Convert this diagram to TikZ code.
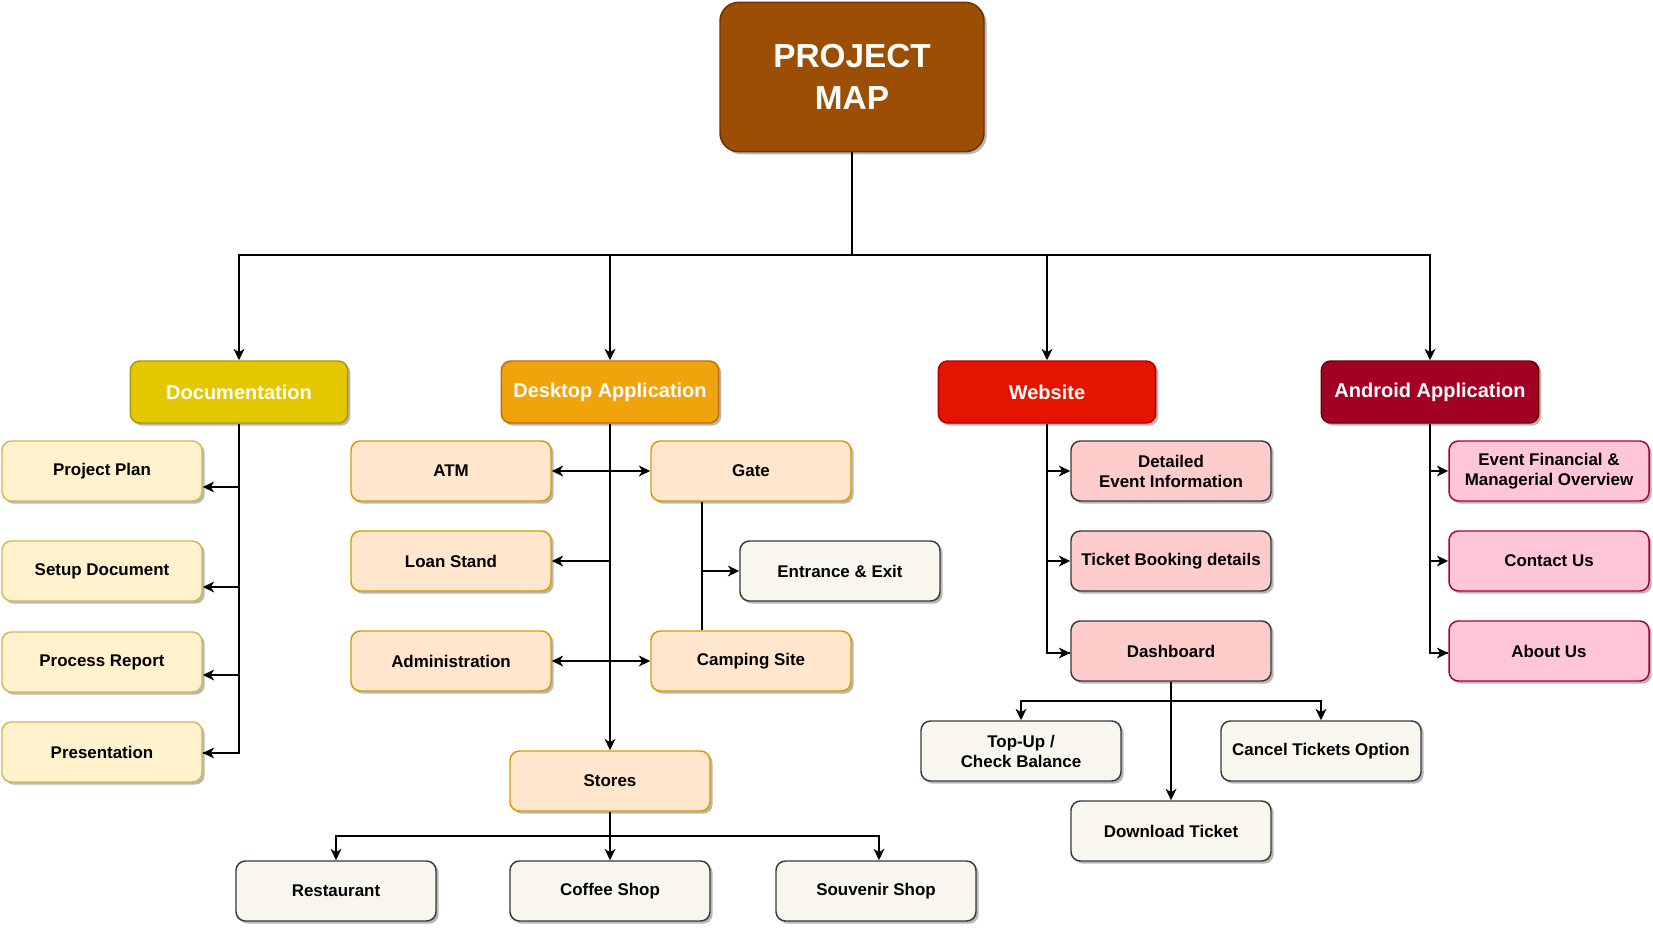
\documentclass[tikz,border=0pt]{standalone}
\usepackage{fontspec}
\setmainfont{Liberation Sans}
\usetikzlibrary{arrows.meta,shadows}
\definecolor{rootfill}{HTML}{9C4E02}
\definecolor{rootline}{HTML}{6B3300}
\definecolor{docfill}{HTML}{E3C800}
\definecolor{docline}{HTML}{B09500}
\definecolor{deskfill}{HTML}{F0A30A}
\definecolor{deskline}{HTML}{BD7000}
\definecolor{webfill}{HTML}{E51400}
\definecolor{webline}{HTML}{B20000}
\definecolor{andfill}{HTML}{A20025}
\definecolor{andline}{HTML}{6F0000}
\definecolor{docchild}{HTML}{FFF2CC}
\definecolor{docchildline}{HTML}{D6B656}
\definecolor{deskchild}{HTML}{FFE6CC}
\definecolor{deskchildline}{HTML}{D79B00}
\definecolor{grayfill}{HTML}{F9F7ED}
\definecolor{grayline}{HTML}{36393D}
\definecolor{webchild}{HTML}{FFCCCC}
\definecolor{andchild}{HTML}{FFC5D8}
\definecolor{andchildline}{HTML}{A8003A}
\tikzset{
  basebox/.style={rounded corners=7pt, line width=1.1pt, align=center,
    font=\bfseries\fontsize{12.7}{15}\selectfont, text=black,
    minimum width=150pt, minimum height=45pt, inner sep=2pt,
    drop shadow={shadow xshift=2pt, shadow yshift=-2pt, opacity=0.28, fill=black}},
  topbox/.style={basebox, minimum width=163pt, minimum height=46.5pt,
    font=\bfseries\fontsize{15}{18}\selectfont, text=white},
  rootbox/.style={basebox, minimum width=198pt, minimum height=112pt, rounded corners=14pt,
    font=\bfseries\fontsize{25}{32}\selectfont, text=white, fill=rootfill, draw=rootline},
  docbox/.style={basebox, fill=docchild, draw=docchildline},
  deskbox/.style={basebox, fill=deskchild, draw=deskchildline},
  graybox/.style={basebox, fill=grayfill, draw=grayline},
  webbox/.style={basebox, fill=webchild, draw=grayline},
  andbox/.style={basebox, fill=andchild, draw=andchildline},
  conn/.style={line width=1.5pt, black},
  arr/.style={conn, -{Stealth[length=8.5pt,width=8pt,inset=2.5pt]}},
  darr/.style={conn, {Stealth[length=8.5pt,width=8pt,inset=2.5pt]}-{Stealth[length=8.5pt,width=8pt,inset=2.5pt]}},
}
\begin{document}
\begin{tikzpicture}[x=0.75pt, y=-0.75pt]
\useasboundingbox (0,0) rectangle (1653,928);
% root
\node[rootbox] (root) at (852,77) {PROJECT\\MAP};
% top level
\node[topbox, fill=docfill, draw=docline] (doc) at (239,392) {Documentation};
\node[topbox, fill=deskfill, draw=deskline] (desk) at (610,392) {Desktop Application};
\node[topbox, fill=webfill, draw=webline] (web) at (1047,392) {Website};
\node[topbox, fill=andfill, draw=andline] (and) at (1430,392) {Android Application};
% documentation children
\node[docbox] (pp) at (102,471) {Project Plan};
\node[docbox] (sd) at (102,571) {Setup Document};
\node[docbox] (pr) at (102,662) {Process Report};
\node[docbox] (pres) at (102,752) {Presentation};
% desktop children
\node[deskbox] (atm) at (451,471) {ATM};
\node[deskbox] (gate) at (751,471) {Gate};
\node[deskbox] (loan) at (451,561) {Loan Stand};
\node[graybox] (entr) at (840,571) {Entrance \& Exit};
\node[deskbox] (admin) at (451,661) {Administration};
\node[deskbox] (camp) at (751,661) {Camping Site};
\node[deskbox] (stores) at (610,781) {Stores};
\node[graybox] (rest) at (336,891) {Restaurant};
\node[graybox] (coffee) at (610,891) {Coffee Shop};
\node[graybox] (souv) at (876,891) {Souvenir Shop};
% website children
\node[webbox] (det) at (1171,471) {Detailed\\Event Information};
\node[webbox] (tick) at (1171,561) {Ticket Booking details};
\node[webbox] (dash) at (1171,651) {Dashboard};
\node[graybox] (topup) at (1021,751) {Top-Up /\\Check Balance};
\node[graybox] (cancel) at (1321,751) {Cancel Tickets Option};
\node[graybox] (down) at (1171,831) {Download Ticket};
% android children
\node[andbox] (efm) at (1549,471) {Event Financial \&\\Managerial Overview};
\node[andbox] (cont) at (1549,561) {Contact Us};
\node[andbox] (about) at (1549,651) {About Us};
% bus coordinates
\coordinate (bus) at (852,255);
\coordinate (sbus) at (610,836);
\coordinate (dbus) at (1171,701);
% root to top level
\draw[conn] (root.south) -- (bus);
\draw[arr] (bus) -| (doc.north);
\draw[arr] (bus) -| (desk.north);
\draw[arr] (bus) -| (web.north);
\draw[arr] (bus) -| (and.north);
% documentation
\draw[conn] (doc.south) |- ([yshift=-0.75pt]pres.east);
\draw[arr] (doc.south |- pp.east) ++(0,16) -- ([yshift=-12pt]pp.east);
\draw[arr] (doc.south |- sd.east) ++(0,16) -- ([yshift=-12pt]sd.east);
\draw[arr] (doc.south |- pr.east) ++(0,13) -- ([yshift=-9.75pt]pr.east);
\draw[arr] ([xshift=12pt,yshift=-0.75pt]pres.east) -- ([yshift=-0.75pt]pres.east);
% desktop
\draw[arr] (desk.south) -- (stores.north);
\draw[darr] (atm.east) -- (gate.west);
\draw[arr] (desk.south |- loan.east) -- (loan.east);
\draw[darr] (admin.east) -- (camp.west);
\draw[conn] ([xshift=-36.75pt]gate.south) -- ([xshift=-36.75pt]camp.north);
\draw[arr] ([xshift=-36.75pt]gate.south |- entr.west) -- (entr.west);
% stores
\draw[conn] (stores.south) -- (sbus);
\draw[arr] (sbus) -| (rest.north);
\draw[arr] (sbus) -- (coffee.north);
\draw[arr] (sbus) -| ([xshift=2.25pt]souv.north);
% website
\draw[conn] (web.south) |- ([yshift=-1.5pt]dash.west);
\draw[arr] (web.south |- det.west) -- (det.west);
\draw[arr] (web.south |- tick.west) -- (tick.west);
\draw[arr] ([xshift=-17pt,yshift=-1.5pt]dash.west) -- ([yshift=-1.5pt]dash.west);
\draw[arr] (dash.south) -- (down.north);
\draw[arr] (dbus) -| (topup.north);
\draw[arr] (dbus) -| (cancel.north);
% android
\draw[conn] (and.south) |- ([yshift=-1.5pt]about.west);
\draw[arr] (and.south |- efm.west) -- (efm.west);
\draw[arr] (and.south |- cont.west) -- (cont.west);
\draw[arr] ([xshift=-13pt,yshift=-1.5pt]about.west) -- ([yshift=-1.5pt]about.west);
\end{tikzpicture}
\end{document}
